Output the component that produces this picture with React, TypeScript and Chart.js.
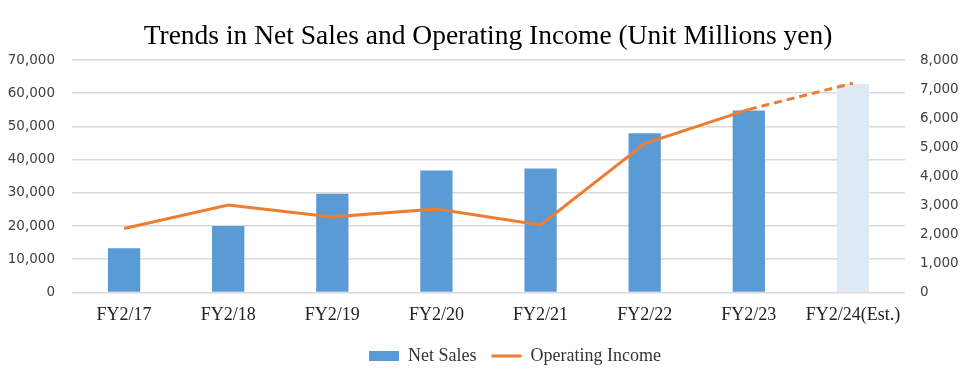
import React, { useEffect, useRef } from "react";
import { Chart, registerables } from "chart.js";

Chart.register(...registerables);

const categories = ["FY2/17", "FY2/18", "FY2/19", "FY2/20", "FY2/21", "FY2/22", "FY2/23", "FY2/24(Est.)"];
const netSales = [13300, 20000, 29700, 36700, 37300, 47900, 54800, 62700];
const operatingIncome = [2200, 3010, 2600, 2870, 2320, 5120, 6300, 7200];
const barColors = ["#5b9bd5", "#5b9bd5", "#5b9bd5", "#5b9bd5", "#5b9bd5", "#5b9bd5", "#5b9bd5", "#dde9f5"];

const legendShift = {
  id: "legendShift",
  afterLayout(chart: any) {
    const lg = chart.legend;
    if (lg) {
      lg.left += 27;
      lg.right += 27;
      lg.top += 2;
      lg.bottom += 2;
    }
  },
};

export default function App() {
  const ref = useRef<HTMLCanvasElement>(null);
  useEffect(() => {
    const chart = new Chart(ref.current!, {
      type: "bar",
      plugins: [legendShift],
      data: {
        labels: categories,
        datasets: [
          {
            type: "line",
            label: "Operating Income",
            data: operatingIncome,
            yAxisID: "y1",
            borderColor: "#ed7d31",
            backgroundColor: "#ed7d31",
            borderWidth: 3,
            pointRadius: 0,
            tension: 0,
            order: 0,
            segment: {
              borderDash: (ctx: any) => (ctx.p1DataIndex === 7 ? [8, 5] : undefined),
            },
          } as any,
          {
            type: "bar",
            label: "Net Sales",
            data: netSales,
            yAxisID: "y",
            backgroundColor: barColors,
            borderWidth: 0,
            categoryPercentage: 1,
            barPercentage: 0.31,
            order: 1,
          },
        ],
      },
      options: {
        animation: false,
        responsive: true,
        maintainAspectRatio: false,
        layout: { padding: { left: 0, right: 0, top: 20, bottom: 5 } },
        plugins: {
          title: {
            display: true,
            text: "Trends in Net Sales and Operating Income (Unit Millions yen)",
            font: { family: "Liberation Serif", size: 27.5, weight: "normal" },
            color: "#000000",
            padding: { top: 0, bottom: 7 },
          },
          legend: {
            position: "bottom",
            reverse: true,
            labels: {
              usePointStyle: true,
              pointStyleWidth: 30,
              boxHeight: 10,
              padding: 15,
              color: "#333333",
              font: { family: "Liberation Serif", size: 18 },
              generateLabels: (chart: any) => {
                const items = Chart.defaults.plugins.legend.labels.generateLabels(chart);
                return items.map((it: any) => {
                  if (it.text === "Net Sales") {
                    return { ...it, pointStyle: "rect", fillStyle: "#5b9bd5", strokeStyle: "#5b9bd5", lineWidth: 0 };
                  }
                  return { ...it, pointStyle: "line", strokeStyle: "#ed7d31", lineWidth: 3 };
                });
              },
            },
          },
          tooltip: { enabled: false },
        },
        scales: {
          x: {
            grid: { display: false },
            border: { display: false },
            ticks: {
              color: "#222222",
              font: { family: "Liberation Serif", size: 18 },
              padding: 4,
              maxRotation: 0,
              autoSkip: false,
            },
          },
          y: {
            position: "left",
            min: 0,
            max: 70000,
            border: { display: false },
            grid: { color: "#d9d9d9", drawTicks: false, lineWidth: 1.5 },
            afterFit: (axis: any) => {
              axis.width = 72;
            },
            ticks: {
              stepSize: 10000,
              padding: 17,
              color: "#404040",
              font: { family: "DejaVu Sans", size: 13.5 },
              callback: (v: any) => Number(v).toLocaleString("en-US"),
            },
          },
          y1: {
            position: "right",
            min: 0,
            max: 8000,
            border: { display: false },
            grid: { display: false, drawTicks: false },
            afterFit: (axis: any) => {
              axis.width = 71;
            },
            ticks: {
              stepSize: 1000,
              padding: 15,
              color: "#404040",
              font: { family: "DejaVu Sans", size: 13.5 },
              callback: (v: any) => Number(v).toLocaleString("en-US"),
            },
          },
        },
      },
    });
    return () => chart.destroy();
  }, []);
  return (
    <div style={{ position: "fixed", left: 0, top: 0, width: 976, height: 378, background: "#ffffff" }}>
      <canvas ref={ref} />
    </div>
  );
}
